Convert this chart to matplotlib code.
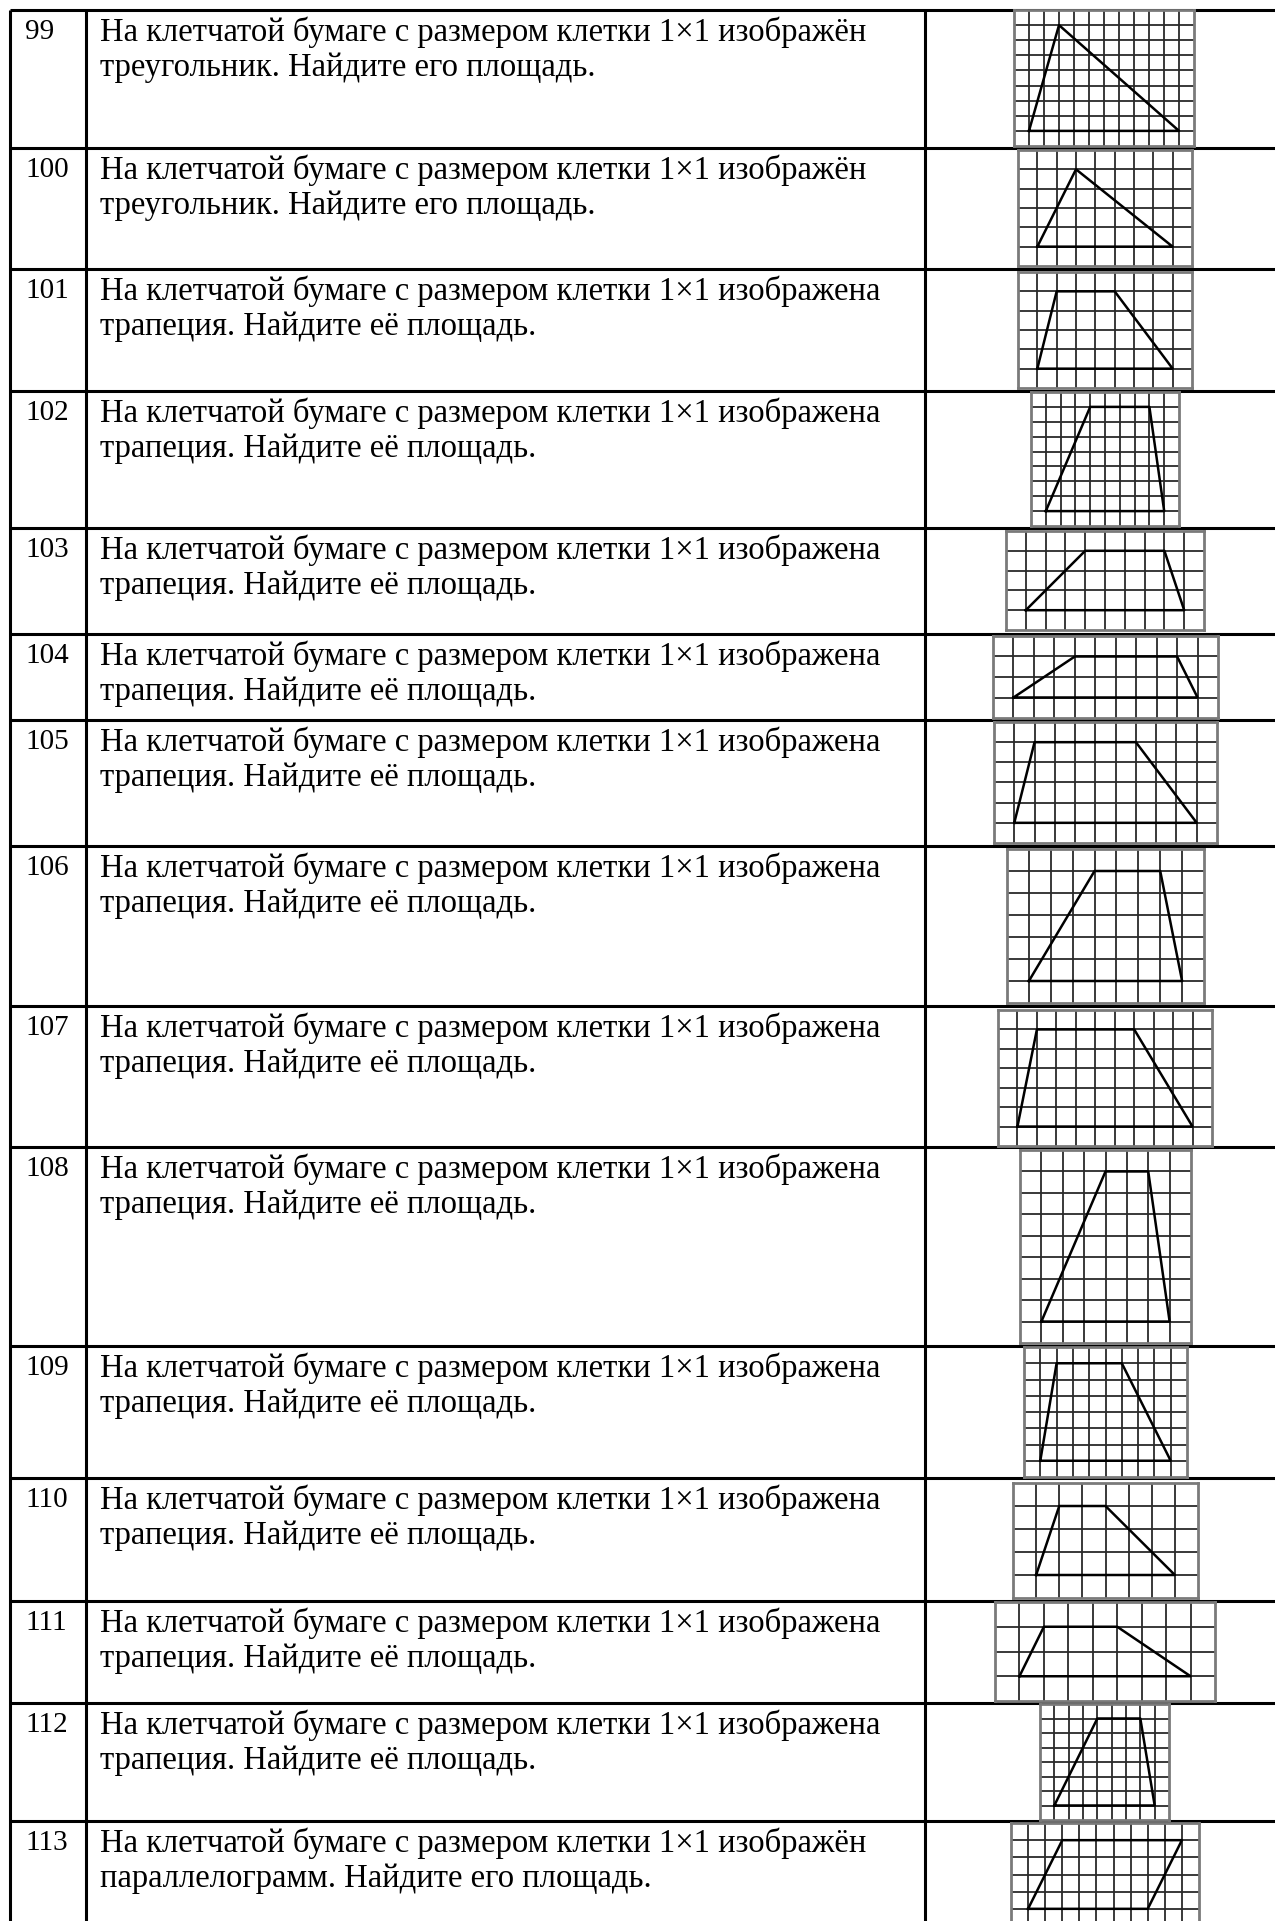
import matplotlib
matplotlib.use("Agg")
import matplotlib.pyplot as plt

# task numbers and the figure in each row
numbers = [99, 100, 101, 102, 103, 104, 105, 106, 107, 108, 109, 110, 111, 112, 113]
kinds = ["tri", "tri", "trap", "trap", "trap", "trap", "trap", "trap", "trap",
         "trap", "trap", "trap", "trap", "trap", "par"]

# grid size (columns, rows) of each picture
grid_cols = [12, 9, 9, 10, 10, 11, 11, 9, 11, 8, 10, 8, 9, 9, 11]
grid_rows = [9, 6, 6, 9, 5, 4, 6, 7, 7, 9, 8, 5, 4, 8, 6]

# shape vertices in cell units (x from left, y from bottom)
shapes = [
    [(1, 1), (3, 8), (11, 1)],
    [(1, 1), (3, 5), (8, 1)],
    [(1, 1), (2, 5), (5, 5), (8, 1)],
    [(1, 1), (4, 8), (8, 8), (9, 1)],
    [(1, 1), (4, 4), (8, 4), (9, 1)],
    [(1, 1), (4, 3), (9, 3), (10, 1)],
    [(1, 1), (2, 5), (7, 5), (10, 1)],
    [(1, 1), (4, 6), (7, 6), (8, 1)],
    [(1, 1), (2, 6), (7, 6), (10, 1)],
    [(1, 1), (4, 8), (6, 8), (7, 1)],
    [(1, 1), (2, 7), (6, 7), (9, 1)],
    [(1, 1), (2, 4), (4, 4), (7, 1)],
    [(1, 1), (2, 3), (5, 3), (8, 1)],
    [(1, 1), (4, 7), (7, 7), (8, 1)],
    [(1, 1), (3, 5), (10, 5), (8, 1)],
]

line1 = {"tri": "На клетчатой бумаге с размером клетки 1×1 изображён",
         "trap": "На клетчатой бумаге с размером клетки 1×1 изображена",
         "par": "На клетчатой бумаге с размером клетки 1×1 изображён"}
line2 = {"tri": "треугольник. Найдите его площадь.",
         "trap": "трапеция. Найдите её площадь.",
         "par": "параллелограмм. Найдите его площадь."}

# layout in pixels
W, H = 1275, 1921
row_edges = [10, 148, 269, 391, 528, 634, 720, 846, 1006, 1147, 1346, 1478, 1601, 1703, 1821]
col_x = [10, 86, 925]
pic_boxes = [  # x0, y0, x1, y1
    (1014, 10, 1194, 146), (1018, 150, 1192, 266), (1018, 272, 1192, 388),
    (1031, 392, 1179, 526), (1006, 531, 1204, 630), (993, 636, 1218, 718),
    (994, 722, 1217, 843), (1007, 849, 1204, 1003), (998, 1010, 1212, 1146),
    (1020, 1150, 1191, 1343), (1024, 1347, 1187, 1477), (1013, 1483, 1198, 1598),
    (995, 1602, 1215, 1701), (1040, 1704, 1169, 1820), (1011, 1823, 1199, 1926),
]

fig = plt.figure(figsize=(W / 100, H / 100), dpi=100)
ax = fig.add_axes([0, 0, 1, 1])
ax.set_xlim(0, W)
ax.set_ylim(H, 0)
ax.axis("off")

text_font = dict(family="Liberation Serif", fontsize=23.5, color="black", va="baseline")
num_font = dict(family="Liberation Serif", fontsize=21, color="black", va="baseline")

# table rules
for y in row_edges:
    ax.plot([col_x[0], W], [y, y], color="black", lw=2.2, solid_capstyle="butt")
for x in col_x:
    ax.plot([x, x], [row_edges[0], H], color="black", lw=2.2, solid_capstyle="butt")

for i, n in enumerate(numbers):
    top = row_edges[i]
    ax.text(25, top + 29, str(n), **num_font)
    ax.text(100, top + 31, line1[kinds[i]], **text_font)
    ax.text(100, top + 66, line2[kinds[i]], **text_font)

    # grid picture
    x0, y0, x1, y1 = pic_boxes[i]
    pax = fig.add_axes([x0 / W, 1 - y1 / H, (x1 - x0) / W, (y1 - y0) / H])
    nc, nr = grid_cols[i], grid_rows[i]
    pax.set_xlim(0, nc)
    pax.set_ylim(0, nr)
    pax.set_xticks([])
    pax.set_yticks([])
    for s in pax.spines.values():
        s.set_color("#7a7a7a")
        s.set_linewidth(2.0)
    for k in range(1, nc):
        pax.axvline(k, color="#2a2a2a", lw=1.3)
    for k in range(1, nr):
        pax.axhline(k, color="#2a2a2a", lw=1.3)
    xs = [p[0] for p in shapes[i]] + [shapes[i][0][0]]
    ys = [p[1] for p in shapes[i]] + [shapes[i][0][1]]
    pax.plot(xs, ys, color="black", lw=1.8)

fig.savefig("out.png", dpi=100)
